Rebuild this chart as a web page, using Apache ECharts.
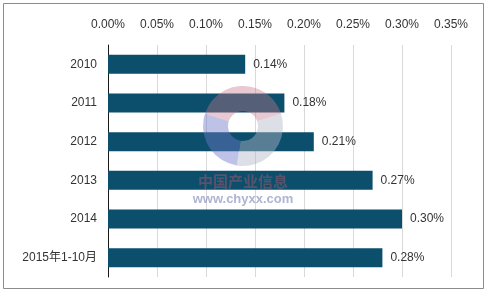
<!DOCTYPE html>
<html><head><meta charset="utf-8">
<script src="https://cdn.jsdelivr.net/npm/echarts@6/dist/echarts.min.js"></script>
<style>html,body{margin:0;padding:0;background:#fff}#c{width:488px;height:295px}</style>
</head><body><div id="c"></div>
<script>
const categories = ['2010','2011','2012','2013','2014','2015年1-10月'];
const values = [0.14, 0.18, 0.21, 0.27, 0.30, 0.28];
const axisMin = 0, axisMax = 0.35, axisStep = 0.05;
const font = '"Liberation Sans", Arial, "Noto Sans CJK SC", sans-serif';
const chart = echarts.init(document.getElementById('c'), null, {renderer:'canvas'});
chart.setOption({
  animation:false,
  backgroundColor:'#fff',
  grid:{left:108,right:37,top:45,bottom:18},
  xAxis:{type:'value',position:'top',min:axisMin,max:axisMax,interval:axisStep,
    axisLine:{show:false},axisTick:{show:false},
    splitLine:{lineStyle:{color:'#d9d9d9',width:1}},
    axisLabel:{formatter:v=>v.toFixed(2)+'%',color:'#333',fontSize:12,fontFamily:font,margin:14}},
  yAxis:{type:'category',inverse:true,data:categories,
    axisLine:{lineStyle:{color:'#1a1a1a',width:1}},axisTick:{show:false},
    axisLabel:{color:'#333',fontSize:12,fontFamily:font,margin:11}},
  series:[{type:'bar',data:values,barWidth:19,itemStyle:{color:'#0b4f6c'},
    label:{show:true,position:'right',distance:8,formatter:p=>p.value.toFixed(2)+'%',color:'#333',fontSize:12,fontFamily:font}}],
  graphic:[
    {type:'rect',shape:{x:3.5,y:3.5,width:480,height:285},style:{fill:null,stroke:'#8c8c8c',lineWidth:1},silent:true,z:100},
    {type:'sector',z:60,silent:true,shape:{cx:243,cy:126,r:40,r0:15,startAngle:Math.PI*1.1,endAngle:Math.PI*1.9},style:{fill:'rgba(200,120,140,0.4)'}},
    {type:'sector',z:60,silent:true,shape:{cx:243,cy:126,r:40,r0:15,startAngle:Math.PI*1.9,endAngle:Math.PI*2.55},style:{fill:'rgba(180,185,200,0.45)'}},
    {type:'sector',z:60,silent:true,shape:{cx:243,cy:126,r:40,r0:15,startAngle:Math.PI*0.55,endAngle:Math.PI*1.1},style:{fill:'rgba(110,120,200,0.45)'}},
    {type:'text',z:60,silent:true,style:{x:243,y:181,text:'中国产业信息',fill:'rgba(200,90,110,0.4)',font:'bold 15px "Noto Sans CJK SC"',textAlign:'center',textVerticalAlign:'middle'}},
    {type:'text',z:60,silent:true,style:{x:243,y:199,text:'www.chyxx.com',fill:'rgba(120,130,180,0.6)',font:'bold 13px "Liberation Sans", Arial',textAlign:'center',textVerticalAlign:'middle'}}
  ]
});
</script></body></html>
